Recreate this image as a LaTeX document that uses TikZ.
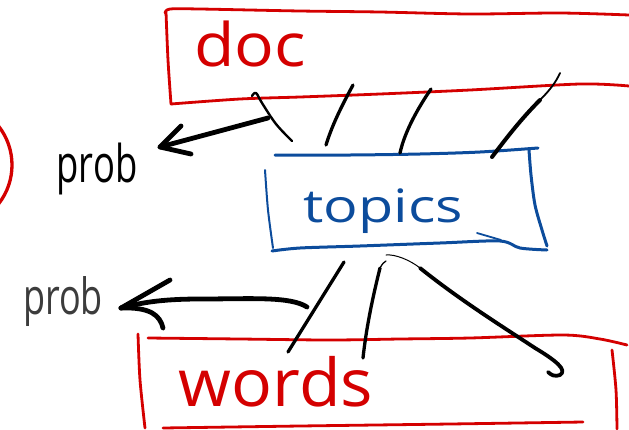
\documentclass[tikz,border=0pt]{standalone}
\usepackage{fontspec}
\setmainfont{Open Sans}
\definecolor{penred}{RGB}{212,0,0}
\definecolor{penblue}{RGB}{12,76,156}
\definecolor{pengrey}{RGB}{60,60,60}
\begin{document}
\begin{tikzpicture}[x=1pt,y=-1pt,line cap=round,line join=round,
  redpen/.style={draw=penred,line width=2.8pt},
  bluepen/.style={draw=penblue,line width=3pt},
  ink/.style={draw=black,line width=3.3pt},
  heavy/.style={draw=black,line width=4.8pt},
  txt/.style={inner sep=0pt,anchor=base}]
\useasboundingbox (0,0) rectangle (629,429);

% ---- labels
\node[txt,text=penred,font=\fontsize{60}{60}\selectfont,xscale=1.1] (doc) at (250,66) {doc};
\node[txt,text=penblue,font=\fontsize{46}{46}\selectfont,xscale=1.25] (topics) at (383,222) {topics};
\node[txt,text=penred,font=\fontsize{66}{66}\selectfont,xscale=1.03] (words) at (276,406) {words};
\node[txt,text=black,font=\fontsize{52}{52}\selectfont,xscale=0.7] (probA) at (97,182) {prob};
\node[txt,text=pengrey,font=\fontsize{50}{50}\selectfont,xscale=0.72] (probB) at (63,314) {prob};

% ---- doc box
\draw[redpen] plot[smooth,tension=0.5] coordinates
  {(629,15) (560,13) (470,14) (380,12) (300,11) (200,9) (170,9) (165,13)};
\draw[redpen] plot[smooth,tension=0.5] coordinates {(166,12) (168,60) (171,104)};
\draw[redpen] plot[smooth,tension=0.5] coordinates
  {(171,104) (240,99) (300,97) (380,94) (470,90) (580,84) (629,86)};

% ---- topics box
\draw[bluepen] plot[smooth,tension=0.5] coordinates
  {(275,155) (350,155) (420,154) (480,152) (538,148)};
\draw[bluepen] plot[smooth,tension=0.5] coordinates
  {(529,150) (531,175) (535,205) (542,230) (547,246)};
\draw[bluepen] plot[smooth,tension=0.5] coordinates
  {(547,250) (520,248) (500,241) (440,243) (360,246) (300,248) (272,251)};
\draw[bluepen,line width=2pt] plot[smooth,tension=0.5] coordinates {(265,170) (268,210) (273,248)};
\draw[bluepen,line width=1.8pt] (477,233) -- (501,240);

% ---- words box
\draw[redpen] plot[smooth,tension=0.5] coordinates
  {(148,338) (240,339) (330,340) (400,339) (470,338) (563,335) (600,339) (627,345)};
\draw[redpen] plot[smooth,tension=0.5] coordinates {(138,334) (140,380) (145,428)};
\draw[redpen] plot[smooth,tension=0.5] coordinates {(612,350) (616,390) (617,429)};
\draw[redpen] plot[smooth,tension=0.5] coordinates {(163,428) (300,426) (450,424) (583,422)};

% ---- partial circle at the left edge
\draw[penred,line width=3.3pt] (-51,165) ++(-38:63) arc[start angle=-38,end angle=38,radius=63];

% ---- connector end points
\coordinate (d1) at (252,96);  \coordinate (t1) at (292,141);
\coordinate (d2) at (353,85);  \coordinate (t2) at (326,145);
\coordinate (d3) at (431,89);  \coordinate (t3) at (400,153);
\coordinate (d4) at (560,73);  \coordinate (t4) at (492,157);
\coordinate (b1) at (344,262); \coordinate (w1) at (288,352);
\coordinate (b2) at (383,263); \coordinate (w2) at (363,358);
\coordinate (b3) at (386,255); \coordinate (w3) at (548,372);
\coordinate (aT) at (268,118); \coordinate (aH) at (160,147);
\coordinate (bT) at (307,307); \coordinate (bH) at (121,308);

% ---- doc to topics
\draw[ink,line width=2.4pt] plot[smooth,tension=0.6] coordinates
  {(d1) (256,93) (262,103) (276,124) (t1)};
\draw[ink] (d2) .. controls (345,100) and (333,122) .. (t2);
\draw[ink] (d3) .. controls (420,105) and (405,130) .. (t3);
\draw[ink,line width=1.8pt] (d4) .. controls (556,82) and (550,90) .. (540,100);
\draw[ink,line width=4pt] (540,100) .. controls (520,120) and (505,140) .. (t4);

% ---- topics to words
\draw[ink] (b1) -- (w1);
\draw[ink,line width=1.3pt] (b2) ++(3,-2) .. controls (b2) .. (380,268);
\draw[ink] (380,268) .. controls (372,300) and (366,330) .. (w2);
\draw[ink,line width=1pt] (b3) .. controls (395,254) and (410,260) .. (420,268);
\draw[ink,line width=3.8pt] (420,268) .. controls (460,300) and (500,325) .. (535,348)
  .. controls (555,360) and (568,370) .. (560,375) .. controls (555,377) and (551,375) .. (w3);

% ---- arrows to the prob labels
\draw[heavy] (aT) -- (aH);
\draw[heavy] (181,126) -- (aH) -- (191,154);
\draw[heavy] (bT) .. controls (290,296) and (250,299) .. (200,299) .. controls (160,299) and (140,303) .. (bH);
\draw[heavy] (170,280) -- (bH);
\draw[heavy] (bH) .. controls (150,307) and (160,315) .. (163,328);
\end{tikzpicture}
\end{document}
